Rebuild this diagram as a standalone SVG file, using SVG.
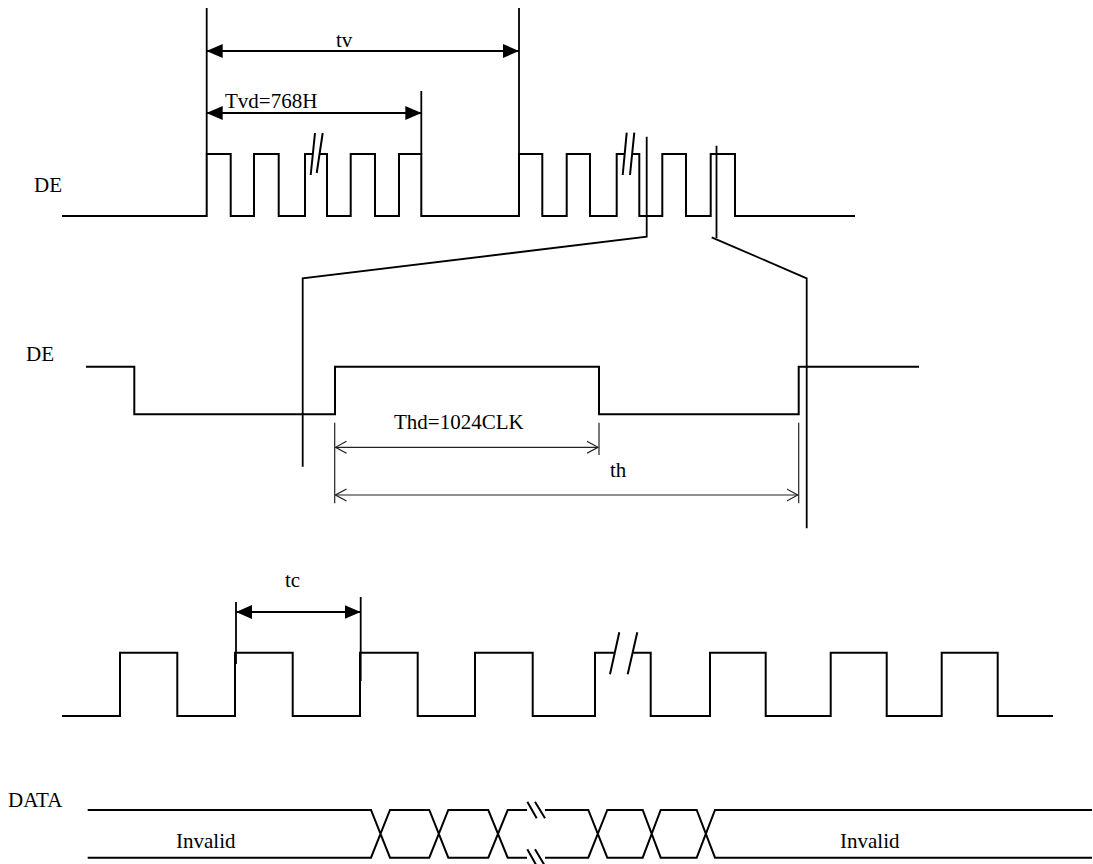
<svg xmlns="http://www.w3.org/2000/svg" width="1093" height="864" viewBox="0 0 1093 864">
<style>
.t{font-family:"Liberation Serif","Times New Roman",serif;font-size:21px;fill:#000}
.w{fill:none;stroke:#000;stroke-width:2}
.v{fill:none;stroke:#000;stroke-width:1.8}
.thin{fill:none;stroke:#222;stroke-width:1.2}
</style>
<defs>
<marker id="fa" viewBox="0 0 16 14" refX="16" refY="7" markerWidth="16" markerHeight="14" markerUnits="userSpaceOnUse" orient="auto-start-reverse"><path d="M0,0 L16,7 L0,14 z" fill="#000"/></marker>
<marker id="oa" viewBox="0 0 12 14" refX="11" refY="7" markerWidth="12" markerHeight="14" markerUnits="userSpaceOnUse" orient="auto-start-reverse"><path d="M0,1 L11,7 L0,13" fill="none" stroke="#222" stroke-width="1.2"/></marker>
</defs>
<rect width="1093" height="864" fill="#fff"/>

<g id="de-top">
<text class="t" x="34" y="192">DE</text>
<path class="w" d="M62,216 H206.7 V154 H230.7 V216 H254 V154 H278.7 V216 H305 V154 H312.8 M319.5,154 H327 V216 H350.7 V154 H375 V216 H399 V154 H421.3 V216 H519 V154 H542.3 V216 H566.7 V154 H590 V216 H616.7 V154 H624.7 M632.2,154 H639.3 V216 H662.3 V154 H686 V216 H710.7 V154 H735 V216 H855"/>
<path class="w" d="M310.7,175 L315,133 M316.7,173 L322.7,133 M622.7,175 L626.7,132.7 M630,175 L634.3,132.7"/>
</g>

<g id="de-mid">
<text class="t" x="26" y="361">DE</text>
<path class="w" d="M86,366.7 H134.3 V414.3 H335 V366.7 H599 V414.3 H798.7 V366.7 H919"/>
</g>

<g id="clk">
<path class="w" d="M62,716 H120 V652.7 H177.3 V716 H235 V652.7 H292.7 V716 H360 V652.7 H417.7 V716 H475 V652.7 H532.7 V716 H595 V652.7 H614.8 M632.6,652.7 H650.7 V716 H710 V652.7 H765.7 V716 H830.7 V652.7 H886.7 V716 H941.7 V652.7 H997.7 V716 H1053"/>
<path class="w" d="M610,674.3 L619.3,632.3 M627.7,674.3 L637.3,632.3"/>
</g>

<g id="data">
<text class="t" x="8" y="807">DATA</text>
<path class="w" d="M87.7,810 H371 L390,857.7 H429.3 L448.3,810 H488.3 L507.7,857.7 H527 M87.7,857.7 H371 L390,810 H429.3 L448.3,857.7 H488.3 L507.7,810 H527"/>
<path class="w" d="M545,810 H588.3 L607.3,857.7 H642.7 L660.7,810 H696.7 L715,857.7 H1092 M545,857.7 H588.3 L607.3,810 H642.7 L660.7,857.7 H696.7 L715,810 H1092"/>
<path class="w" d="M527.3,801.7 L536.7,818.3 M535,801.7 L545,818.3 M527.3,849.3 L536.7,866 M535,849.3 L545,866"/>
<text class="t" x="176" y="848">Invalid</text>
<text class="t" x="840" y="848">Invalid</text>
</g>

<g id="connectors">
<path class="v" d="M206.7,8 V154 M519,8 V154 M421.3,91 V154"/>
<line class="v" x1="206.7" y1="51" x2="519" y2="51" marker-start="url(#fa)" marker-end="url(#fa)"/>
<text class="t" x="336" y="47">tv</text>
<line class="v" x1="206.7" y1="113" x2="421.3" y2="113" marker-start="url(#fa)" marker-end="url(#fa)"/>
<text class="t" x="225" y="108">Tvd=768H</text>

<path class="v" d="M646.7,136.7 V236.7 L302.7,278.3 V466.7"/>
<path class="v" d="M716.5,145.7 V238 M711.7,237.3 L806.7,278.3 V528.3"/>

<path class="thin" d="M334.7,422.7 V503.3 M599,422.7 V455 M798.7,422.7 V503.3"/>
<line class="thin" x1="335.5" y1="447.3" x2="598" y2="447.3" marker-start="url(#oa)" marker-end="url(#oa)"/>
<text class="t" x="394" y="429">Thd=1024CLK</text>
<line class="thin" x1="335.5" y1="495" x2="797.7" y2="495" marker-start="url(#oa)" marker-end="url(#oa)"/>
<text class="t" x="610" y="477">th</text>

<path class="v" d="M236,602 V664 M360.7,597 V681"/>
<line class="v" x1="236" y1="612" x2="360.7" y2="612" marker-start="url(#fa)" marker-end="url(#fa)"/>
<text class="t" x="285" y="587">tc</text>
</g>
</svg>
